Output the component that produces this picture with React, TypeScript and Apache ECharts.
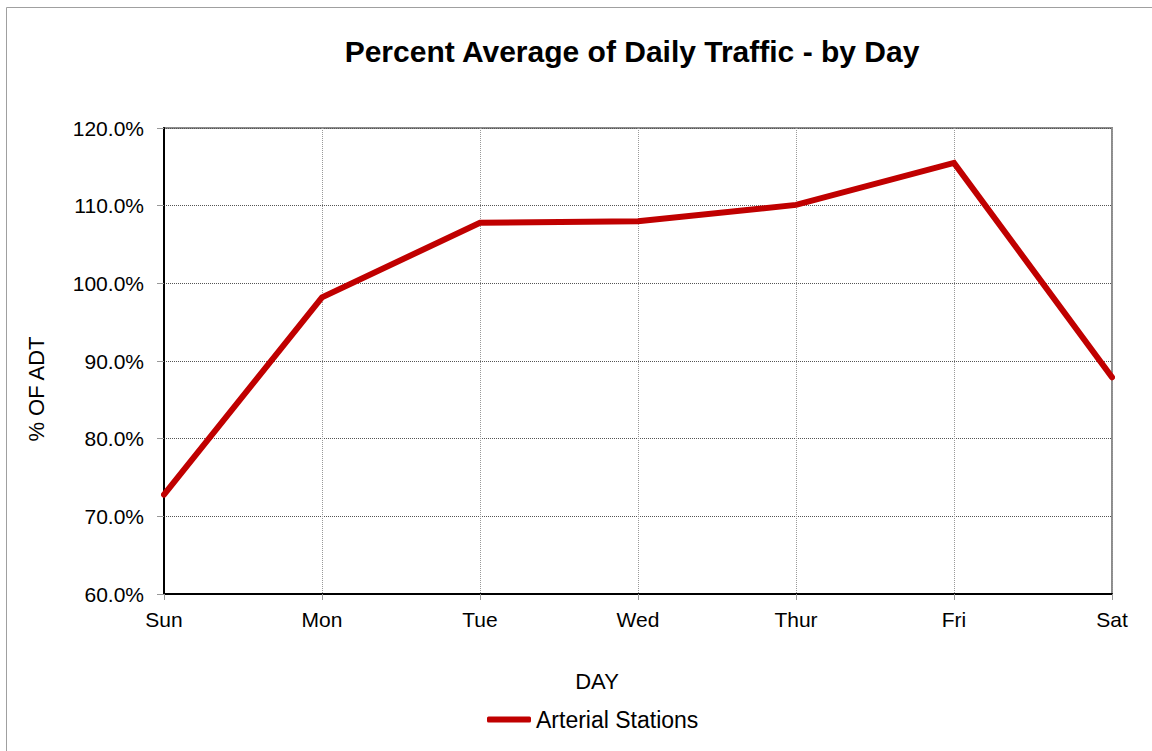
import React, { useEffect, useRef } from "react";
import * as echarts from "echarts";

const categories = ["Sun", "Mon", "Tue", "Wed", "Thur", "Fri", "Sat"];
const arterialStations = [72.8, 98.2, 107.8, 108.0, 110.1, 115.5, 87.9];
const yMin = 60;
const yMax = 120;
const yInterval = 10;
const titleText = "Percent Average of Daily Traffic - by Day";
const xName = "DAY";
const yName = "% OF ADT";
const seriesName = "Arterial Stations";

const FONT = "'Liberation Sans', Arial, sans-serif";

export default function App() {
  const ref = useRef<HTMLDivElement>(null);
  useEffect(() => {
    if (!ref.current) return;
    const chart = echarts.init(ref.current, null, { renderer: "svg" });
    chart.setOption({
      animation: false,
      backgroundColor: "#ffffff",
      textStyle: { fontFamily: FONT, color: "#000" },
      grid: {
        left: 164,
        top: 128,
        right: 40,
        bottom: 157,
        show: true,
        borderColor: "#8c8c8c",
        borderWidth: 2,
        backgroundColor: "transparent",
      },
      legend: {
        data: [{ name: seriesName, icon: "roundRect" }],
        left: 482,
        top: 703,
        itemWidth: 44,
        itemHeight: 6,
        itemStyle: { color: "#C00000" },
        textStyle: { fontFamily: FONT, fontSize: 23, color: "#000" },
      },
      xAxis: {
        type: "category",
        data: categories,
        boundaryGap: false,
        axisLine: { lineStyle: { color: "#000", width: 2 } },
        axisTick: { show: true, length: 6, lineStyle: { color: "#999", width: 1 } },
        axisLabel: { fontFamily: FONT, fontSize: 21, color: "#000", margin: 15 },
        splitLine: { show: true, lineStyle: { color: "#999", type: "dotted", width: 1 } },
      },
      yAxis: {
        type: "value",
        min: yMin,
        max: yMax,
        interval: yInterval,
        axisLine: { show: true, lineStyle: { color: "#000", width: 2 } },
        axisTick: { show: true, length: 7, lineStyle: { color: "#999", width: 1 } },
        axisLabel: {
          fontFamily: FONT,
          fontSize: 21,
          color: "#000",
          margin: 20,
          formatter: (v: number) => v.toFixed(1) + "%",
        },
        splitLine: { show: true, lineStyle: { color: "#555", type: "dotted", width: 1 } },
      },
      series: [
        {
          name: seriesName,
          type: "line",
          data: arterialStations,
          symbol: "none",
          lineStyle: { color: "#C00000", width: 6, cap: "round", join: "miter" },
          itemStyle: { color: "#C00000" },
        },
      ],
      graphic: [
        {
          type: "rect",
          silent: true,
          shape: { x: 6.5, y: 7.5, width: 1300, height: 900 },
          style: { fill: "none", stroke: "#a0a0a0", lineWidth: 1 },
          z: -1,
        },
        {
          type: "text",
          x: 632,
          y: 51,
          style: {
            text: titleText,
            fontFamily: FONT,
            fontSize: 30,
            fontWeight: "bold",
            fill: "#000",
            align: "center",
            verticalAlign: "middle",
          },
        },
        {
          type: "text",
          x: 597,
          y: 681,
          style: {
            text: xName,
            fontFamily: FONT,
            fontSize: 22,
            fill: "#000",
            align: "center",
            verticalAlign: "middle",
          },
        },
        {
          type: "text",
          x: 36,
          y: 389,
          rotation: Math.PI / 2,
          style: {
            text: yName,
            fontFamily: FONT,
            fontSize: 22,
            fill: "#000",
            align: "center",
            verticalAlign: "middle",
          },
        },
      ],
    });
    return () => chart.dispose();
  }, []);
  return (
    <div
      ref={ref}
      style={{ position: "fixed", left: 0, top: 0, width: 1152, height: 751, background: "#fff" }}
    />
  );
}
